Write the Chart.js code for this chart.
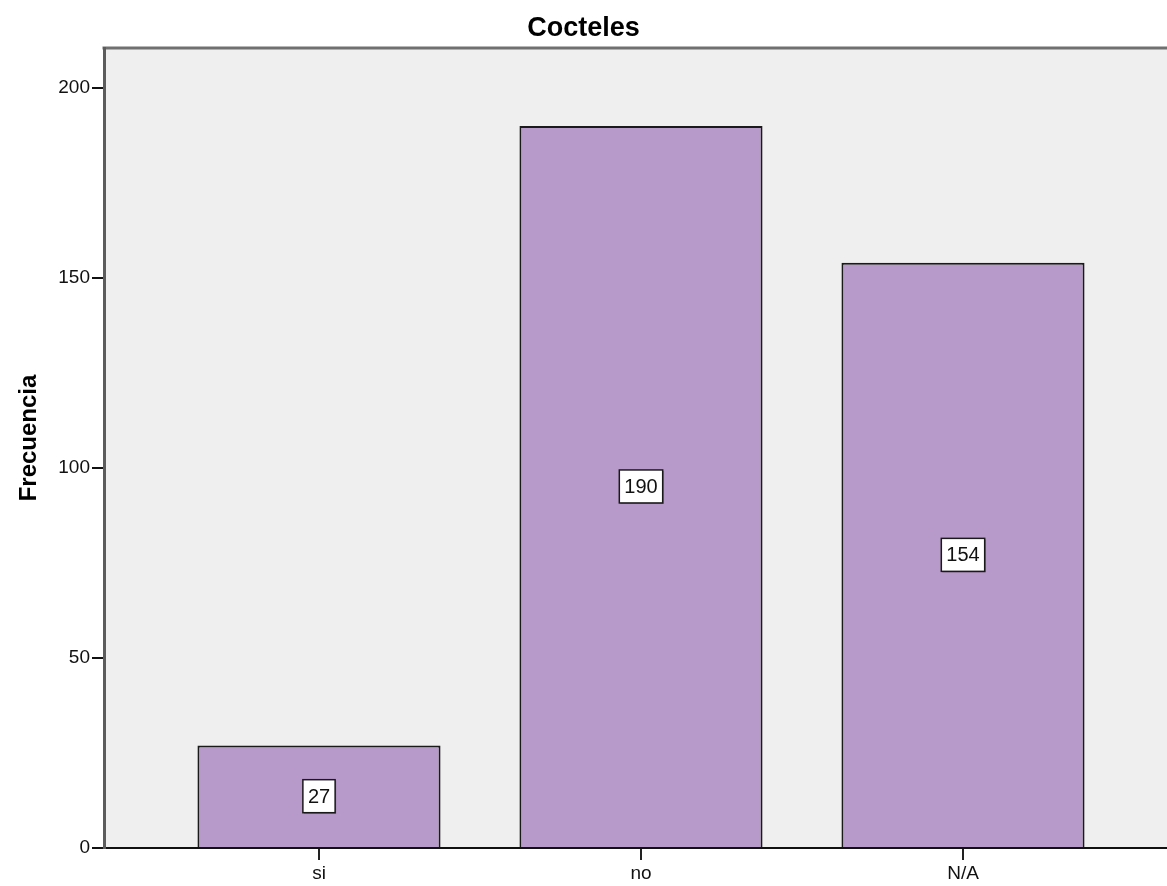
<!DOCTYPE html>
<html>
<head>
<meta charset="utf-8">
<title>Cocteles</title>
<script src="https://cdn.jsdelivr.net/npm/chart.js@4/dist/chart.umd.min.js"></script>
<style>
    html, body { margin: 0; padding: 0; background: #fff; overflow: hidden; }
    #wrap { width: 1167px; height: 886px; position: relative; }
</style>
</head>
<body>
<div id="wrap"><canvas id="cocktailChart"></canvas></div>
<script>
// Survey answers for "Cocteles"
const categories = ['si', 'no', 'N/A'];
const frequencies = [27, 190, 154];
const yTicks = [0, 50, 100, 150, 200];

const FONT = '"Liberation Sans", Arial, Helvetica, sans-serif';

// Grey plot background, top frame, title and rotated axis title
const plotFrame = {
    id: 'plotFrame',
    beforeDraw(chart) {
        const { ctx, chartArea: a } = chart;
        ctx.save();
        ctx.fillStyle = '#efefef';
        ctx.fillRect(a.left, a.top, a.right - a.left, a.bottom - a.top);
        ctx.strokeStyle = '#707070';
        ctx.lineWidth = 3;
        ctx.beginPath();
        ctx.moveTo(a.left - 1.5, a.top);
        ctx.lineTo(a.right, a.top);
        ctx.stroke();
        ctx.restore();
    },
    afterDraw(chart) {
        const ctx = chart.ctx;
        ctx.save();
        ctx.fillStyle = '#000';
        ctx.textAlign = 'center';
        ctx.textBaseline = 'middle';
        ctx.font = 'bold 27px ' + FONT;
        ctx.fillText('Cocteles', chart.width / 2, 29);
        ctx.translate(29, 438);
        ctx.rotate(-Math.PI / 2);
        ctx.font = 'bold 24px ' + FONT;
        ctx.fillText('Frecuencia', 0, 0);
        ctx.restore();
    }
};

// Boxed value label in the middle of each bar
const boxLabels = {
    id: 'boxLabels',
    afterDatasetsDraw(chart) {
        const ctx = chart.ctx;
        const meta = chart.getDatasetMeta(0);
        ctx.save();
        ctx.font = '20px ' + FONT;
        ctx.textAlign = 'center';
        ctx.textBaseline = 'middle';
        meta.data.forEach((bar, i) => {
            const text = String(frequencies[i]);
            const cx = bar.x;
            const cy = (bar.y + bar.base) / 2;
            const w = ctx.measureText(text).width + 10;
            const h = 33;
            ctx.fillStyle = 'rgba(0,0,0,0.35)';
            ctx.fillRect(cx - w / 2 + 1, cy - h / 2 + 1, w, h);
            ctx.fillStyle = '#fff';
            ctx.fillRect(cx - w / 2, cy - h / 2, w, h);
            ctx.strokeStyle = '#1a1a1a';
            ctx.lineWidth = 1.5;
            ctx.strokeRect(cx - w / 2, cy - h / 2, w, h);
            ctx.fillStyle = '#111';
            ctx.fillText(text, cx, cy + 1);
        });
        ctx.restore();
    }
};

const ctx = document.getElementById('cocktailChart').getContext('2d');
const cocktailChart = new Chart(ctx, {
    type: 'bar',
    data: {
        datasets: [{
            label: 'Frecuencia',
            data: frequencies.map((f, i) => ({ x: i + 1, y: f })),
            backgroundColor: '#b89aca',
            borderColor: '#1a1a1a',
            borderWidth: 2,
            borderSkipped: 'bottom',
            categoryPercentage: 1,
            barPercentage: 0.755
        }]
    },
    options: {
        responsive: true,
        maintainAspectRatio: false,
        animation: false,
        devicePixelRatio: 1,
        layout: { padding: { top: 48, left: 0, right: 0, bottom: 0 } },
        plugins: {
            legend: { display: false },
            title: { display: false },
            tooltip: { enabled: false }
        },
        scales: {
            x: {
                type: 'linear',
                offset: false,
                min: 1 - 215 / 322,
                max: 3 + 204 / 322,
                afterBuildTicks: (scale) => { scale.ticks = categories.map((c, i) => ({ value: i + 1 })); },
                afterFit: (scale) => { scale.height = 38; },
                grid: { offset: false, drawOnChartArea: false, drawTicks: true, tickLength: 12, color: '#222', lineWidth: 2 },
                border: { display: true, color: '#111', width: 2 },
                ticks: {
                    autoSkip: false,
                    maxRotation: 0,
                    padding: 2,
                    color: '#111',
                    font: { family: FONT, size: 19 },
                    callback: (v) => categories[v - 1]
                }
            },
            y: {
                min: 0,
                max: 210.5,
                afterBuildTicks: (scale) => { scale.ticks = yTicks.map(v => ({ value: v })); },
                afterFit: (scale) => { scale.width = 104; },
                grid: { drawOnChartArea: false, drawTicks: true, tickLength: 12, color: '#111', lineWidth: 2 },
                border: { display: true, color: '#5c5c5c', width: 3 },
                ticks: {
                    padding: 2,
                    color: '#111',
                    font: { family: FONT, size: 19 }
                }
            }
        }
    },
    plugins: [plotFrame, boxLabels]
});
</script>
</body>
</html>
